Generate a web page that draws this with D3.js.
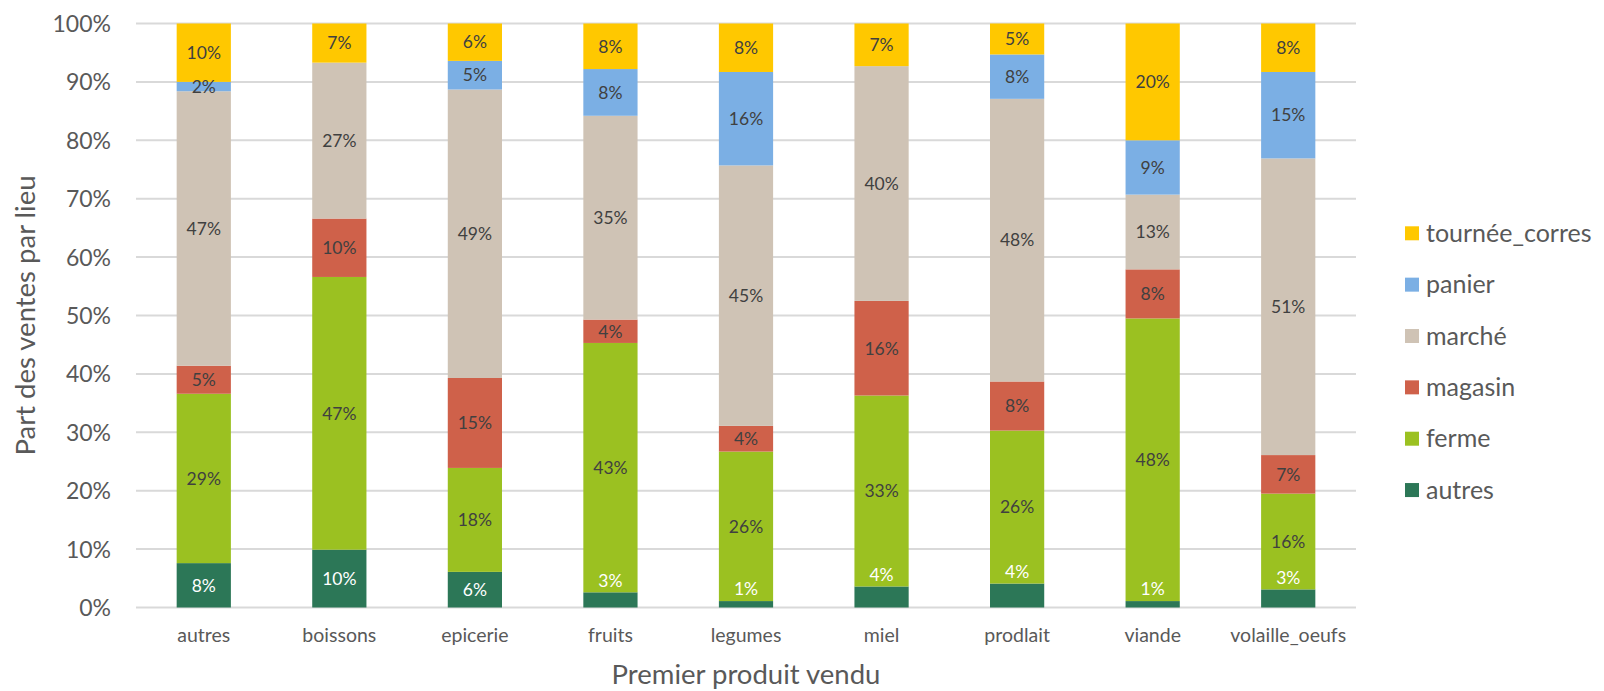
<!DOCTYPE html>
<html>
<head>
<meta charset="utf-8">
<script src="https://cdn.jsdelivr.net/npm/d3@7"></script>
<style>
  html, body { margin: 0; padding: 0; background: #fff; }
  svg { display: block; font-family: Lato, "Open Sans", sans-serif; }
  svg text { font-family: Lato, "Open Sans", sans-serif; }
</style>
</head>
<body>
<svg id="chart" width="1604" height="691"></svg>
<script>
// Product categories (first product sold)
const categories = ["autres", "boissons", "epicerie", "fruits", "legumes", "miel", "prodlait", "viande", "volaille_oeufs"];

// Share of sales by place, in percent, one array per place
const autres  = [7.6, 9.9, 6.1, 2.6, 1.1, 3.6, 4.1, 1.1, 3.1];
const ferme   = [29.0, 46.7, 17.8, 42.7, 25.6, 32.7, 26.2, 48.4, 16.4];
const magasin = [4.8, 10.0, 15.4, 4.0, 4.4, 16.2, 8.4, 8.4, 6.6];
const marche  = [47.0, 26.7, 49.4, 34.9, 44.6, 40.2, 48.4, 12.8, 50.8];
const panier  = [1.6, 0, 4.9, 8.0, 16.0, 0, 7.6, 9.3, 14.8];
const tournee = [10.0, 6.7, 6.4, 7.8, 8.3, 7.3, 5.3, 20.0, 8.3];

// Series names, bottom of the stack first
const seriesNames = ["autres", "ferme", "magasin", "marché", "panier", "tournée_corres"];
const seriesValues = [autres, ferme, magasin, marche, panier, tournee];
const seriesColors = ["#2C7757", "#9BC121", "#CF614A", "#CFC3B5", "#7BAFE4", "#FFC800"];

// Y axis ticks
const yTicks = [0, 10, 20, 30, 40, 50, 60, 70, 80, 90, 100];

const svg = d3.select("#chart");
const plot = { left: 136, right: 1356, top: 23.5, bottom: 607.5 };
const FONT = "Lato, 'Open Sans', sans-serif";

const x = d3.scaleBand()
  .domain(categories)
  .range([plot.left, plot.right])
  .paddingInner(0.6)
  .paddingOuter(0.3);

const y = d3.scaleLinear()
  .domain([0, 100])
  .range([plot.bottom, plot.top]);

const color = d3.scaleOrdinal().domain(seriesNames).range(seriesColors);

// Gridlines
svg.append("g")
  .selectAll("line")
  .data(yTicks)
  .join("line")
  .attr("x1", plot.left)
  .attr("x2", plot.right)
  .attr("y1", d => y(d))
  .attr("y2", d => y(d))
  .attr("stroke", "#D9D9D9")
  .attr("stroke-width", 2);

// Y axis tick labels
const yAxis = svg.append("g")
  .attr("transform", `translate(${plot.left - 25},0)`)
  .call(d3.axisLeft(y).tickValues(yTicks).tickFormat(d => d + "%").tickSize(0).tickPadding(0))
  .attr("font-family", FONT)
  .attr("font-size", null);
yAxis.select(".domain").remove();
yAxis.selectAll("text")
  .attr("fill", "#595959")
  .style("font-size", "23px")
  .attr("dy", "0.35em");

// Stack the series
const rows = categories.map((c, i) => {
  const r = { category: c };
  seriesNames.forEach((s, k) => { r[s] = seriesValues[k][i]; });
  return r;
});
const stacked = d3.stack().keys(seriesNames)(rows);

// Bars
const layers = svg.append("g")
  .selectAll("g")
  .data(stacked)
  .join("g")
  .attr("fill", d => color(d.key));

layers.selectAll("rect")
  .data(d => d)
  .join("rect")
  .attr("x", d => x(d.data.category))
  .attr("width", x.bandwidth())
  .attr("y", d => y(d[1]))
  .attr("height", d => y(d[0]) - y(d[1]));

// Value labels
const labels = svg.append("g")
  .style("font-size", "17.5px")
  .attr("text-anchor", "middle");

stacked.forEach(layer => {
  const isBase = layer.key === "autres";
  layer.forEach(d => {
    const v = d[1] - d[0];
    if (v <= 0) return;
    let cy = (y(d[0]) + y(d[1])) / 2;
    // thin base segments get their label just above the segment
    if (isBase && v < 5) cy = y(d[1]) - 12;
    labels.append("text")
      .attr("x", x(d.data.category) + x.bandwidth() / 2)
      .attr("y", cy)
      .attr("dy", "0.36em")
      .attr("fill", isBase ? "#FFFFFF" : "#404040")
      .text(Math.round(v) + "%");
  });
});

// X axis category labels
const xAxis = svg.append("g")
  .attr("transform", `translate(0,${plot.bottom})`)
  .call(d3.axisBottom(x).tickSize(0).tickPadding(0))
  .attr("font-family", FONT)
  .attr("font-size", null);
xAxis.select(".domain").remove();
xAxis.selectAll("text")
  .attr("fill", "#595959")
  .style("font-size", "19.5px")
  .attr("dy", null)
  .attr("y", 34);

// Axis titles
svg.append("text")
  .attr("x", (plot.left + plot.right) / 2)
  .attr("y", 684)
  .attr("text-anchor", "middle")
  .attr("fill", "#595959")
  .style("font-size", "27.5px")
  .text("Premier produit vendu");

svg.append("text")
  .attr("transform", `translate(35,${(plot.top + plot.bottom) / 2}) rotate(-90)`)
  .attr("text-anchor", "middle")
  .attr("fill", "#595959")
  .style("font-size", "27.5px")
  .text("Part des ventes par lieu");

// Legend, top of the stack first
const legendItems = seriesNames.slice().reverse();
const legend = svg.append("g")
  .selectAll("g")
  .data(legendItems)
  .join("g")
  .attr("transform", (d, i) => `translate(1405,${233.3 + i * 51.35})`);

legend.append("rect")
  .attr("x", 0)
  .attr("y", -7)
  .attr("width", 14)
  .attr("height", 14)
  .attr("fill", d => color(d));

legend.append("text")
  .attr("x", 21)
  .attr("y", 0)
  .attr("dy", "0.35em")
  .attr("fill", "#595959")
  .style("font-size", "25px")
  .text(d => d);
</script>
</body>
</html>
